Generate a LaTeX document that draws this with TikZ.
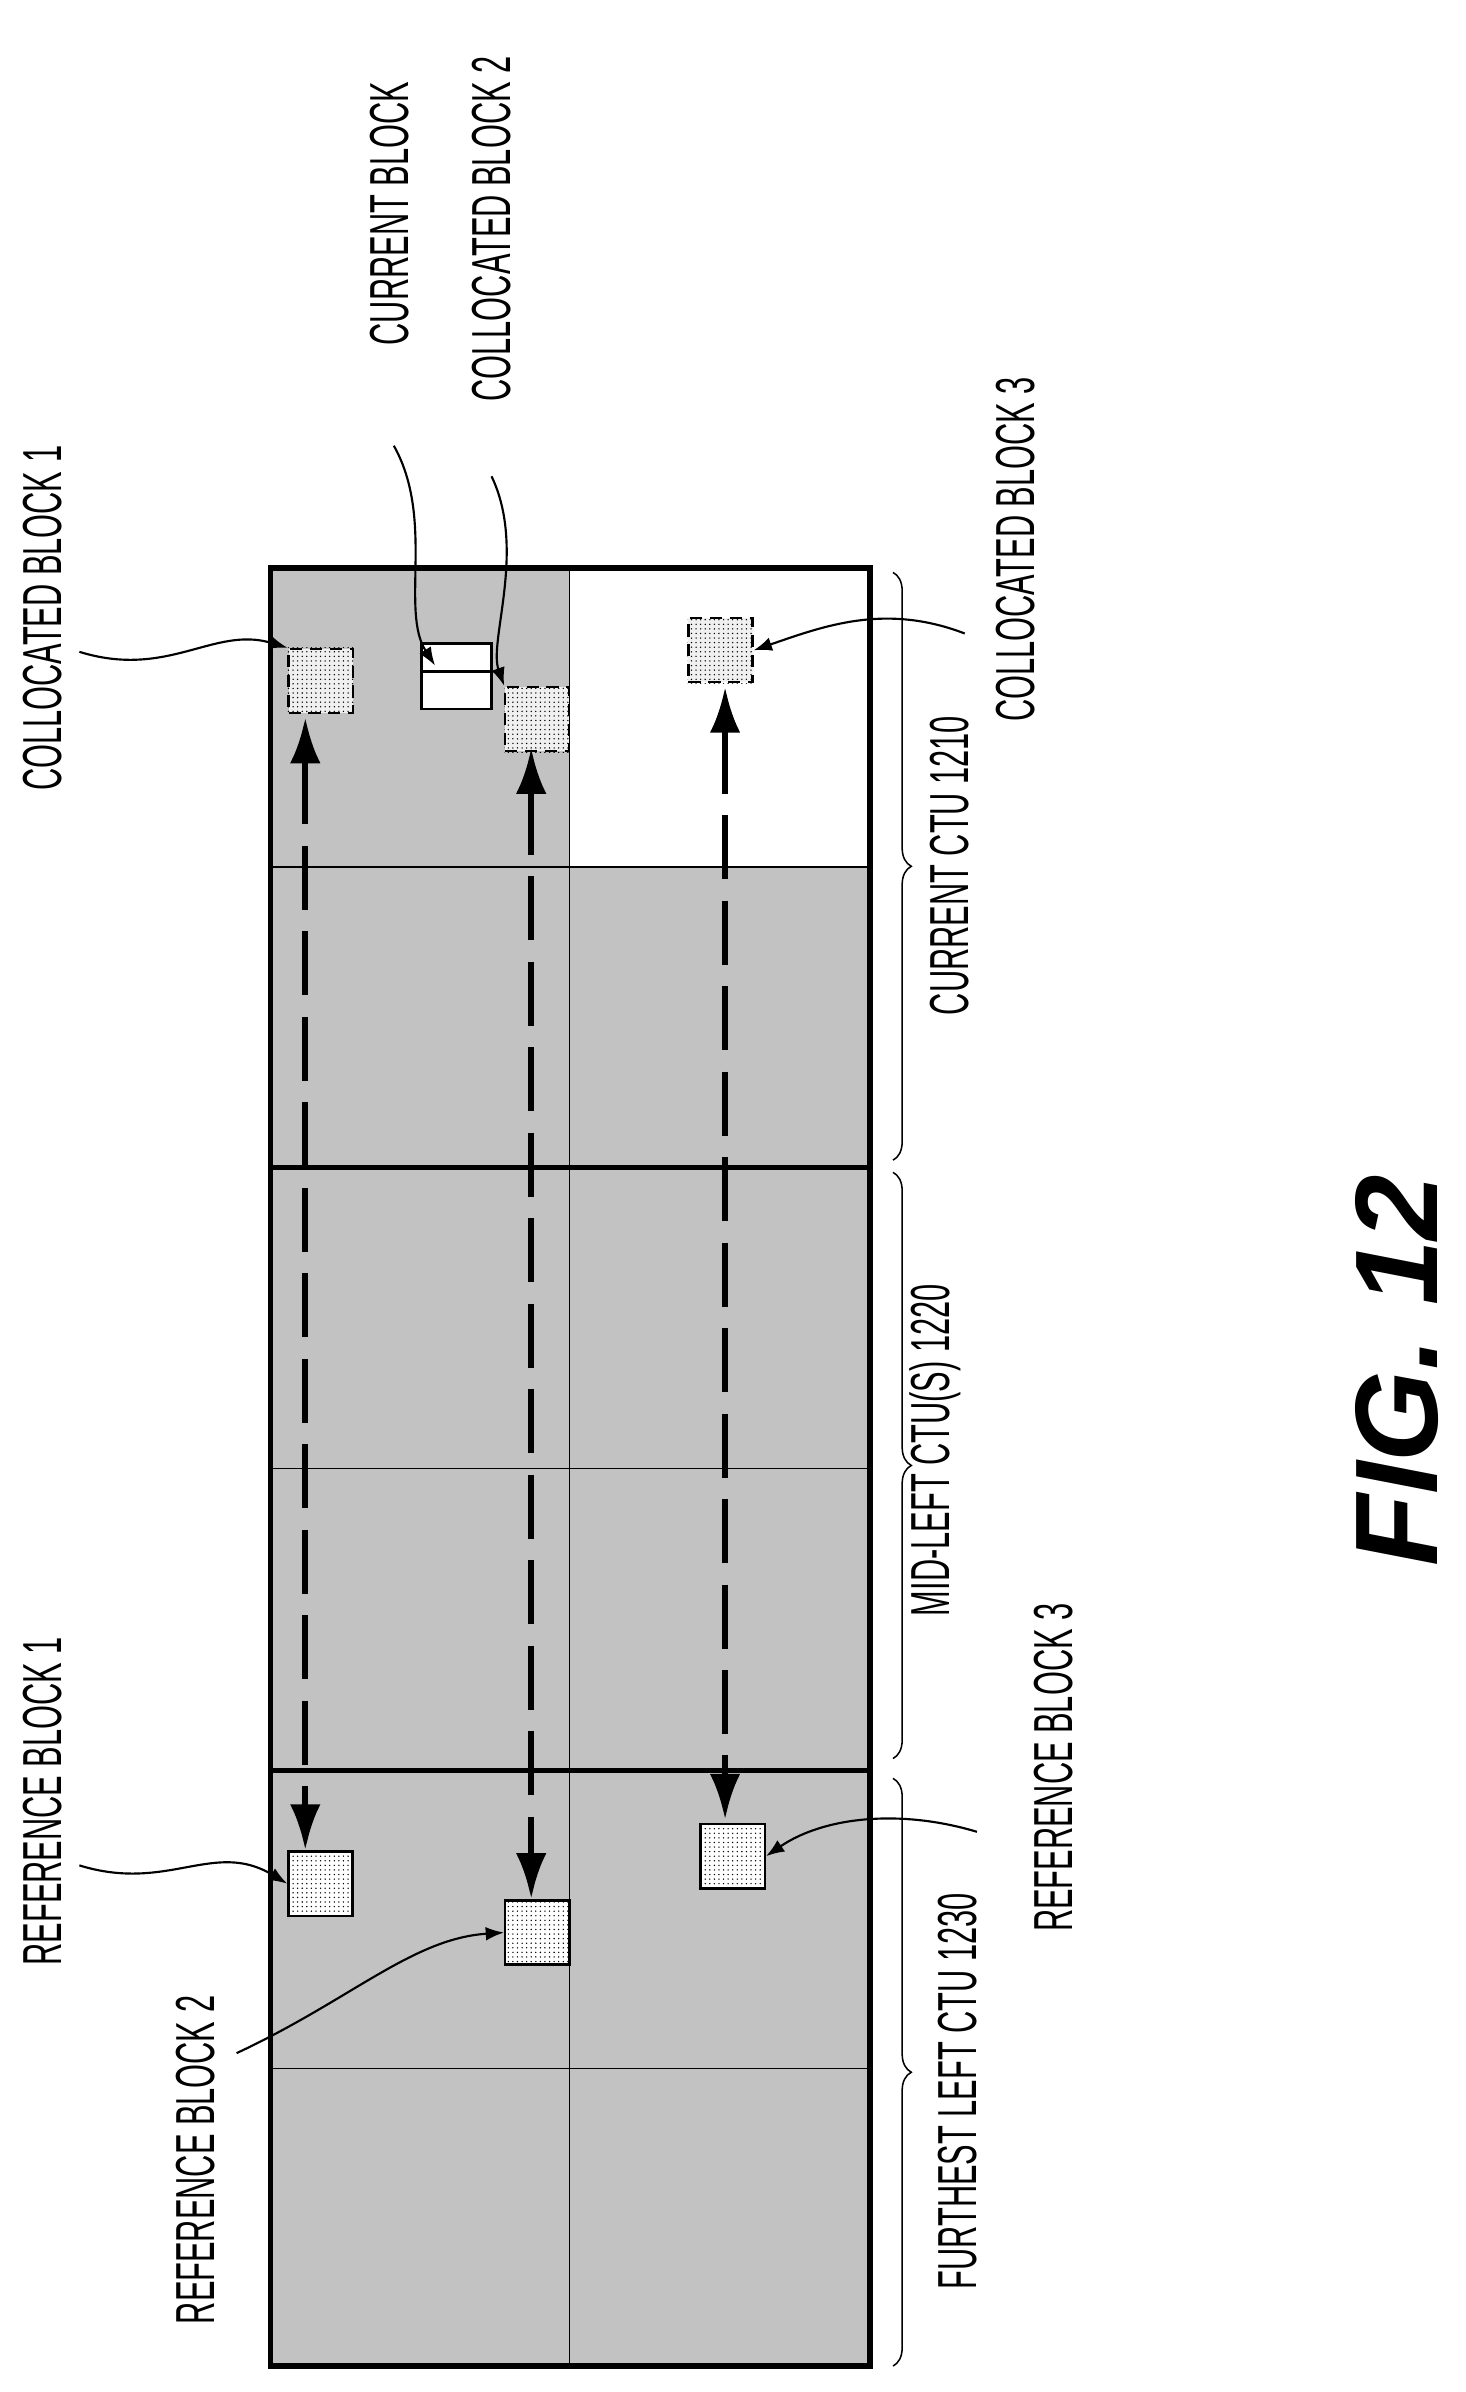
\documentclass[tikz,border=0pt]{standalone}
\usepackage{fontspec}
\setmainfont{Liberation Sans}
\newfontfamily\lab[FakeStretch=0.56]{Liberation Sans}
\usetikzlibrary{arrows.meta,patterns,decorations.pathreplacing}
\begin{document}
\begin{tikzpicture}[x=1pt,y=-1pt,
  lbl/.style={rotate=90,inner sep=0pt,font=\lab\fontsize{36}{36}\selectfont},
  ctu/.style={line width=3.5pt},
  thin/.style={line width=1pt},
  colblk/.style={draw,dashed,line width=1.4pt,dash pattern=on 8pt off 5pt,fill=gray!12,pattern color=black},
  refblk/.style={draw,line width=1.6pt,fill=white},
  mv/.style={line width=4pt,dash pattern=on 42pt off 14pt,{Latex[length=30pt,width=20pt]}-{Latex[length=30pt,width=20pt]}},
  lead/.style={line width=1.4pt,-{Latex[length=12pt,width=9pt]}},
  brc/.style={thin,decorate,decoration={brace,amplitude=12pt}}]
\useasboundingbox (0,0) rectangle (960,1567);
% fills
\fill[gray!48] (177,372) rectangle (570,1550);
\fill[white] (373,372) rectangle (570,568);
% thin grid
\draw[thin] (373,372) -- (373,1550);
\foreach \y in {568,962,1355} \draw[thin] (177,\y) -- (570,\y);
% thick
\draw[ctu] (177,372) rectangle (570,1550);
\draw[ctu] (177,765) -- (570,765);
\draw[ctu] (177,1160) -- (570,1160);
% blocks
\node[colblk,minimum size=42pt,inner sep=0pt] (c1) at (210,446) {};
\fill[pattern=dots] (c1.south west) rectangle (c1.north east);
\node[colblk,minimum size=42pt,inner sep=0pt] (c2) at (352,471) {};
\fill[pattern=dots] (c2.south west) rectangle (c2.north east);
\node[colblk,minimum size=42pt,inner sep=0pt] (c3) at (472,426) {};
\fill[pattern=dots] (c3.south west) rectangle (c3.north east);
\node[refblk,minimum width=46pt,minimum height=43pt,inner sep=0pt] (cur) at (299,443) {};
\draw[line width=1.6pt] (cur.west) ++(0,-3) -- ++(46,0);
\node[refblk,minimum size=42pt,inner sep=0pt] (r1) at (210,1234) {};
\fill[pattern=dots] (r1.south west) rectangle (r1.north east);
\node[refblk,minimum size=42pt,inner sep=0pt] (r2) at (352,1266) {};
\fill[pattern=dots] (r2.south west) rectangle (r2.north east);
\node[refblk,minimum size=42pt,inner sep=0pt] (r3) at (480,1216) {};
\fill[pattern=dots] (r3.south west) rectangle (r3.north east);
% motion arrows
\draw[mv] (200,470) -- (200,1212);
\draw[mv] (348,490) -- (348,1244);
\draw[mv] (475,450) -- (475,1192);
% labels
\node[lbl] (l1) at (28,405) {COLLOCATED BLOCK 1};
\node[lbl] (l2) at (255,140) {CURRENT BLOCK};
\node[lbl] (l3) at (322,150) {COLLOCATED BLOCK 2};
\node[lbl] (l4) at (665,360) {COLLOCATED BLOCK 3};
\node[lbl] (l5) at (622,567) {CURRENT CTU 1210};
\node[lbl] (l6) at (613,950) {MID-LEFT CTU(S) 1220};
\node[lbl] (l7) at (627,1370) {FURTHEST LEFT CTU 1230};
\node[lbl] (l8) at (28,1180) {REFERENCE BLOCK 1};
\node[lbl] (l9) at (128,1415) {REFERENCE BLOCK 2};
\node[lbl] (l10) at (690,1158) {REFERENCE BLOCK 3};
\node[rotate=90,inner sep=0pt,font=\bfseries\itshape\fontsize{77}{77}\selectfont] (fig) at (915,898) {FIG. 12};
% leaders
\draw[lead] (52,427) .. controls (110,445) and (140,410) .. (c1.north west);
\draw[lead] (258,292) .. controls (285,340) and (262,400) .. (285,436);
\draw[lead] (322,312) .. controls (345,360) and (320,420) .. (c2.north west);
\draw[lead] (632,415) .. controls (580,395) and (540,410) .. (c3.east);
\draw[lead] (52,1222) .. controls (110,1240) and (140,1205) .. (r1.west);
\draw[lead] (155,1345) .. controls (230,1310) and (270,1270) .. (r2.west);
\draw[lead] (640,1200) .. controls (590,1185) and (540,1190) .. (r3.east);
% braces
\draw[brc] (585,375) -- (585,760);
\draw[brc] (585,768) -- (585,1152);
\draw[brc] (585,1165) -- (585,1550);
\end{tikzpicture}
\end{document}
